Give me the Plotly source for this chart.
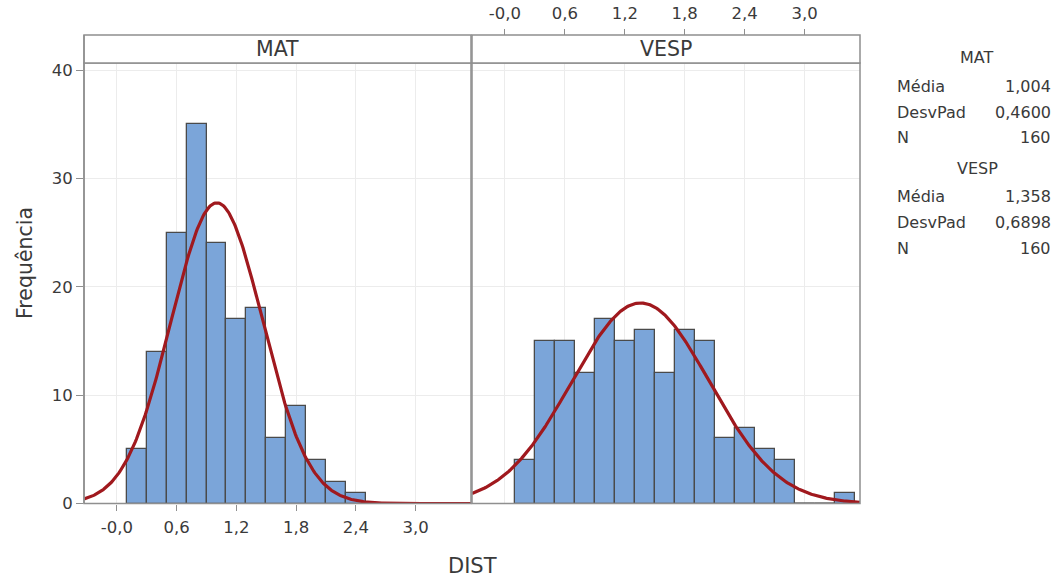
import numpy as np
import plotly.graph_objects as go

# ---- data ----
bin_centers = [0.2, 0.4, 0.6, 0.8, 1.0, 1.2, 1.4, 1.6, 1.8, 2.0, 2.2, 2.4, 2.6, 2.8, 3.0, 3.2, 3.4]
mat_counts = [5, 14, 25, 35, 24, 17, 18, 6, 9, 4, 2, 1, 0, 0, 0, 0, 0]
vesp_counts = [4, 15, 15, 12, 17, 15, 16, 12, 16, 15, 6, 7, 5, 4, 0, 0, 1]
bin_width = 0.2

mat_mean, mat_sd, mat_n = 1.004, 0.4600, 160
vesp_mean, vesp_sd, vesp_n = 1.358, 0.6898, 160

x_tickvals = [0.0, 0.6, 1.2, 1.8, 2.4, 3.0]
x_ticktext = ["-0,0", "0,6", "1,2", "1,8", "2,4", "3,0"]
y_tickvals = [0, 10, 20, 30, 40]
y_ticktext = ["0", "10", "20", "30", "40"]

legend_rows = [
    ("MAT", None),
    ("Média", "1,004"),
    ("DesvPad", "0,4600"),
    ("N", "160"),
    ("VESP", None),
    ("Média", "1,358"),
    ("DesvPad", "0,6898"),
    ("N", "160"),
]

# ---- geometry (pixels of 1058x579 canvas) ----
W, H = 1058, 579
def px(x): return x / W
def py(y): return 1 - y / H

XR = [-0.33, 3.555]
YR = [0, 40.65]
left_dom = [px(84), px(471)]
right_dom = [px(472), px(860)]
y_dom = [py(503.5), py(63)]

BAR_COLOR = "#7BA5D9"
EDGE = "#4a4a4a"
CURVE = "#A0191E"
TXT = "#3a3a3a"
GRID = "#ececec"
BORDER = "#8f8f8f"
FONT = "DejaVu Sans"

fig = go.Figure()

def add_panel(counts, mean, sd, n, xa, ya):
    fig.add_trace(go.Bar(x=bin_centers, y=counts, width=bin_width,
                         marker=dict(color=BAR_COLOR, line=dict(color=EDGE, width=1.3)),
                         xaxis=xa, yaxis=ya, showlegend=False, hoverinfo="skip"))
    zx, zy = [], []
    for c, k in zip(bin_centers, counts):
        if k == 0:
            zx += [c - bin_width / 2, c + bin_width / 2, None]
            zy += [0, 0, None]
    if zx:
        fig.add_trace(go.Scatter(x=zx, y=zy, mode="lines", line=dict(color=EDGE, width=2),
                                 xaxis=xa, yaxis=ya, showlegend=False, hoverinfo="skip",
                                 cliponaxis=False))
    xs = np.linspace(XR[0], XR[1], 400)
    ys = n * bin_width / (sd * np.sqrt(2 * np.pi)) * np.exp(-0.5 * ((xs - mean) / sd) ** 2)
    fig.add_trace(go.Scatter(x=xs, y=ys, mode="lines", line=dict(color=CURVE, width=3.2),
                             xaxis=xa, yaxis=ya, showlegend=False, hoverinfo="skip"))

add_panel(mat_counts, mat_mean, mat_sd, mat_n, "x", "y")
add_panel(vesp_counts, vesp_mean, vesp_sd, vesp_n, "x2", "y2")

tickfont = dict(family=FONT, size=16.5, color=TXT)
common_x = dict(range=XR, tickvals=x_tickvals, ticktext=x_ticktext, showgrid=True,
                gridcolor=GRID, gridwidth=1, zeroline=False, ticks="outside", ticklen=6,
                tickcolor=BORDER, tickfont=tickfont, showline=False, automargin=False,
                ticklabelstandoff=3)

fig.update_layout(
    width=W, height=H, margin=dict(l=0, r=0, t=0, b=0, autoexpand=False),
    paper_bgcolor="white", plot_bgcolor="white", bargap=0,
    xaxis=dict(domain=left_dom, anchor="y", side="bottom", **common_x),
    xaxis2=dict(domain=right_dom, anchor="free", position=py(35), side="top", **common_x),
    yaxis=dict(domain=y_dom, range=YR, tickvals=y_tickvals, ticktext=y_ticktext,
               showgrid=True, gridcolor=GRID, zeroline=False, ticks="outside", ticklen=7,
               tickcolor=BORDER, tickfont=tickfont, anchor="x", showline=False,
               automargin=False),
    yaxis2=dict(domain=y_dom, range=YR, tickvals=y_tickvals, showticklabels=False,
                showgrid=True, gridcolor=GRID, zeroline=False, anchor="x2", showline=False,
                automargin=False),
)

shapes = []
for dom in (left_dom, right_dom):
    shapes.append(dict(type="rect", xref="paper", yref="paper", x0=dom[0], x1=dom[1],
                       y0=y_dom[0], y1=y_dom[1], line=dict(color=BORDER, width=1.5)))
    shapes.append(dict(type="rect", xref="paper", yref="paper", x0=dom[0], x1=dom[1],
                       y0=py(63), y1=py(35), line=dict(color=BORDER, width=1.5),
                       fillcolor="white"))
shapes.append(dict(type="line", xref="paper", yref="paper", x0=left_dom[0], x1=left_dom[0],
                   y0=y_dom[0], y1=py(35), line=dict(color=BORDER, width=1.5)))
fig.update_layout(shapes=shapes)

ann = []
for dom, name in ((left_dom, "MAT"), (right_dom, "VESP")):
    ann.append(dict(x=(dom[0] + dom[1]) / 2, y=py(49), xref="paper", yref="paper",
                    text=name, showarrow=False, xanchor="center", yanchor="middle",
                    font=dict(family=FONT, size=20.5, color=TXT)))

ann.append(dict(x=px(25), y=py(263), xref="paper", yref="paper", text="Frequência",
                textangle=-90, showarrow=False, xanchor="center", yanchor="middle",
                font=dict(family=FONT, size=20.5, color=TXT)))
ann.append(dict(x=px(472), y=py(566), xref="paper", yref="paper", text="DIST",
                showarrow=False, xanchor="center", yanchor="middle",
                font=dict(family=FONT, size=21, color=TXT)))

row_y = [58, 86.5, 112.5, 138, 168.5, 196.5, 222.5, 249]
lfont = dict(family=FONT, size=16, color=TXT)
for (lab, val), yy in zip(legend_rows, row_y):
    if val is None:
        ann.append(dict(x=px(977), y=py(yy), xref="paper", yref="paper", text=lab,
                        showarrow=False, xanchor="center", yanchor="middle", font=lfont))
    else:
        ann.append(dict(x=px(895), y=py(yy), xref="paper", yref="paper", text=lab,
                        showarrow=False, xanchor="left", yanchor="middle", font=lfont))
        ann.append(dict(x=px(1053), y=py(yy), xref="paper", yref="paper", text=val,
                        showarrow=False, xanchor="right", yanchor="middle", font=lfont))
fig.update_layout(annotations=ann)

post = ("document.documentElement.style.margin='0';"
        "document.documentElement.style.overflow='hidden';"
        "document.body.style.margin='0';document.body.style.overflow='hidden';"
        "var d=document.getElementById('{plot_id}');"
        "d.style.position='fixed';d.style.top='0px';d.style.left='0px';")
fig.write_html("out.html", config={"displayModeBar": False}, post_script=post)
